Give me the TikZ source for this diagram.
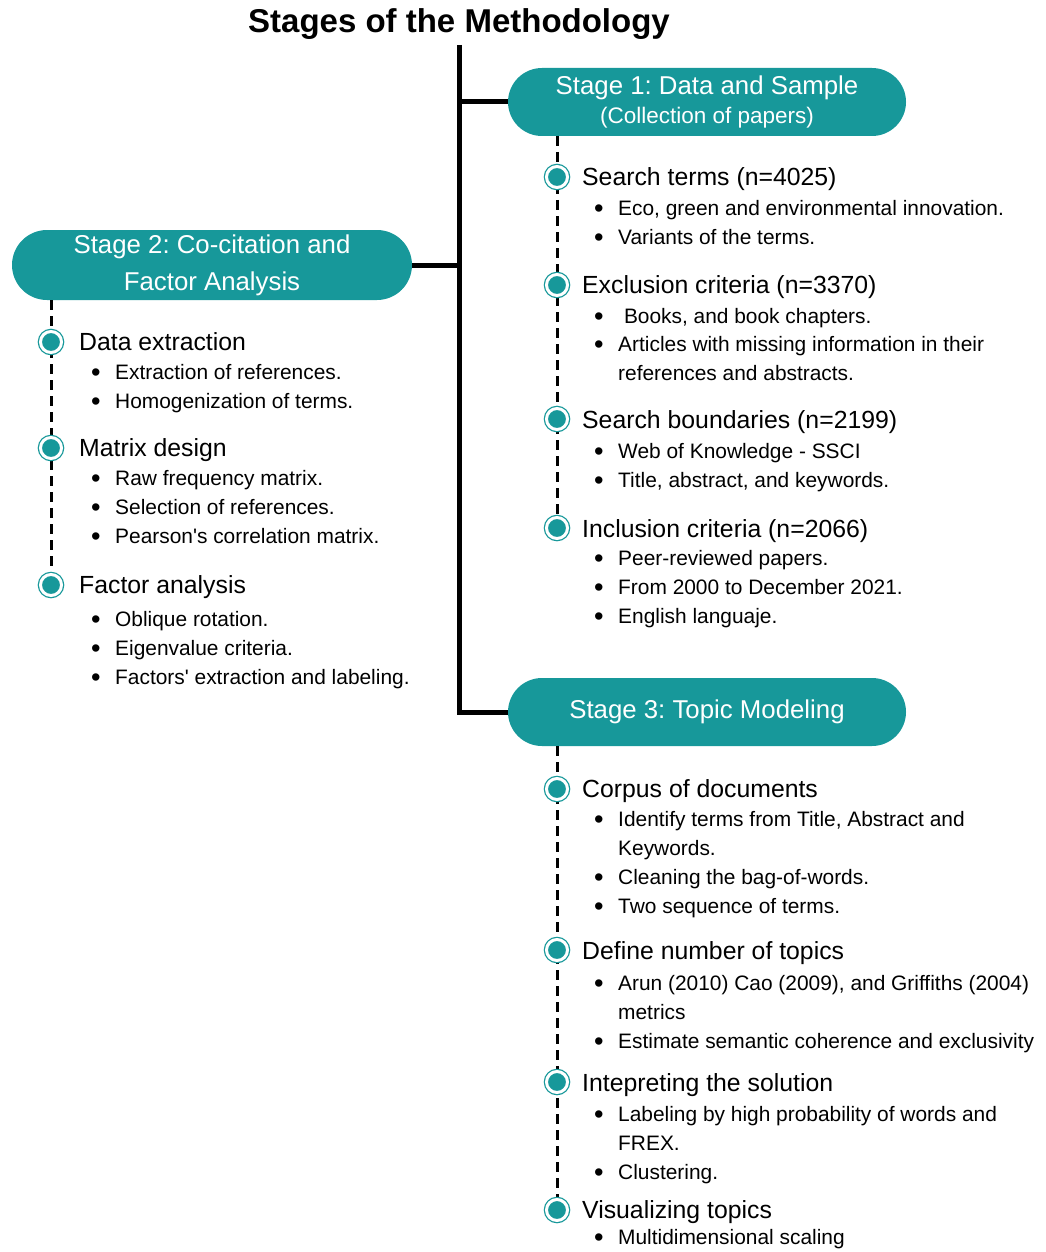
\documentclass[tikz,border=0pt]{standalone}
\usepackage{fontspec}
\setmainfont{Liberation Sans}
\usetikzlibrary{positioning}
\definecolor{verde}{HTML}{17989A}

\tikzset{
  etapa/.style={fill=verde, text=white, rounded corners=34pt, minimum width=398pt, minimum height=68pt,
    inner sep=0pt, align=center, font=\fontsize{25.8}{37}\selectfont},
  punto/.style={circle, fill=verde, draw=white, line width=3pt, minimum size=21pt, inner sep=0pt,
    preaction={draw=verde, line width=5.5pt}},
  cabeza/.style={anchor=west, inner sep=0pt, text height=17.8pt, text depth=0pt, font=\fontsize{24.8}{28}\selectfont},
  vineta/.style={anchor=west, inner sep=0pt, text height=15pt, text depth=0pt, font=\fontsize{20.9}{24}\selectfont},
  tronco/.style={line width=5pt, black},
  guion/.style={line width=3pt, black, dash pattern=on 10pt off 6pt},
}
\newcommand{\vin}[1]{\makebox[24pt][l]{\raisebox{-2pt}{\scalebox{1.3}{\textbullet}}}#1}

\begin{document}
\frenchspacing
\begin{tikzpicture}[x=1pt, y=-1pt]
        \useasboundingbox (0,0) rectangle (1046,1252);
        % Titulo
        \node[font=\bfseries\fontsize{33}{38}\selectfont] (titulo) at (459,24) {Stages of the Methodology};
        % Cajas de las etapas
        \node[etapa] (e1) at (707,102) {Stage 1: Data and Sample\\[-8pt]{\fontsize{22.5}{26}\selectfont (Collection of papers)}};
        \node[etapa, minimum width=400pt, minimum height=70pt, rounded corners=35pt] (e2) at (212,265) {Stage 2: Co-citation and\\Factor Analysis};
        \node[etapa] (e3) at (707,712) {Stage 3: Topic Modeling};
        % Tronco negro
        \coordinate (arriba) at (459,45);
        \draw[tronco] (arriba) |- (e3.west);
        \draw[tronco] (arriba |- e1.west) -- (e1.west);
        \draw[tronco] (e2.east) -- (arriba |- e2.east);

        % Puntos de cada etapa
        \coordinate (p10) at (557,136);
        \coordinate (p20) at (51,300);
        \coordinate (p30) at (557,746);
        \draw[guion] (p10) -- (557,528);
        \draw[guion] (p20) -- (51,585);
        \draw[guion] (p30) -- (557,1210);
        \node[punto] (p11) at (557,177) {};
        \node[punto] (p12) at (557,285) {};
        \node[punto] (p13) at (557,419) {};
        \node[punto] (p14) at (557,528) {};
        \node[punto] (p21) at (51,342) {};
        \node[punto] (p22) at (51,448) {};
        \node[punto] (p23) at (51,585) {};
        \node[punto] (p31) at (557,789) {};
        \node[punto] (p32) at (557,950) {};
        \node[punto] (p33) at (557,1082) {};
        \node[punto] (p34) at (557,1210) {};

        % Etapa 1
        \node[cabeza] (c11) at (582,177) {Search terms (n=4025)};
        \node[vineta] (v111) at (594,208) {\vin{Eco, green and environmental innovation.}};
        \node[vineta] (v112) at (594,237) {\vin{Variants of the terms.}};
        \node[cabeza] (c12) at (582,285) {Exclusion criteria (n=3370)};
        \node[vineta] (v121) at (594,316) {\vin{\ Books, and book chapters.}};
        \node[vineta] (v122) at (594,344) {\vin{Articles with missing information in their}};
        \node[vineta] (v123) at (618,373) {references and abstracts.};
        \node[cabeza] (c13) at (582,420) {Search boundaries (n=2199)};
        \node[vineta] (v131) at (594,451) {\vin{Web of Knowledge - SSCI}};
        \node[vineta] (v132) at (594,480) {\vin{Title, abstract, and keywords.}};
        \node[cabeza] (c14) at (582,529) {Inclusion criteria (n=2066)};
        \node[vineta] (v141) at (594,558) {\vin{Peer-reviewed papers.}};
        \node[vineta] (v142) at (594,587) {\vin{From 2000 to December 2021.}};
        \node[vineta] (v143) at (594,616) {\vin{English languaje.}};

        % Etapa 2
        \node[cabeza] (c21) at (79,342) {Data extraction};
        \node[vineta] (v211) at (91,372) {\vin{Extraction of references.}};
        \node[vineta] (v212) at (91,401) {\vin{Homogenization of terms.}};
        \node[cabeza] (c22) at (79,448) {Matrix design};
        \node[vineta] (v221) at (91,478) {\vin{Raw frequency matrix.}};
        \node[vineta] (v222) at (91,507) {\vin{Selection of references.}};
        \node[vineta] (v223) at (91,536) {\vin{Pearson\textquotesingle s correlation matrix.}};
        \node[cabeza] (c23) at (79,585) {Factor analysis};
        \node[vineta] (v231) at (91,619) {\vin{Oblique rotation.}};
        \node[vineta] (v232) at (91,648) {\vin{Eigenvalue criteria.}};
        \node[vineta] (v233) at (91,677) {\vin{Factors\textquotesingle{} extraction and labeling.}};

        % Etapa 3
        \node[cabeza] (c31) at (582,789) {Corpus of documents};
        \node[vineta] (v311) at (594,819) {\vin{Identify terms from Title, Abstract and}};
        \node[vineta] (v312) at (618,848) {Keywords.};
        \node[vineta] (v313) at (594,877) {\vin{Cleaning the bag-of-words.}};
        \node[vineta] (v314) at (594,906) {\vin{Two sequence of terms.}};
        \node[cabeza] (c32) at (582,951) {Define number of topics};
        \node[vineta] (v321) at (594,983) {\vin{Arun (2010) Cao (2009), and Griffiths (2004)}};
        \node[vineta] (v322) at (618,1012) {metrics};
        \node[vineta] (v323) at (594,1041) {\vin{Estimate semantic coherence and exclusivity}};
        \node[cabeza] (c33) at (582,1083) {Intepreting the solution};
        \node[vineta] (v331) at (594,1114) {\vin{Labeling by high probability of words and}};
        \node[vineta] (v332) at (618,1143) {FREX.};
        \node[vineta] (v333) at (594,1172) {\vin{Clustering.}};
        \node[cabeza] (c34) at (582,1210) {Visualizing topics};
        \node[vineta] (v341) at (594,1237) {\vin{Multidimensional scaling}};
    \end{tikzpicture}
\end{document}
